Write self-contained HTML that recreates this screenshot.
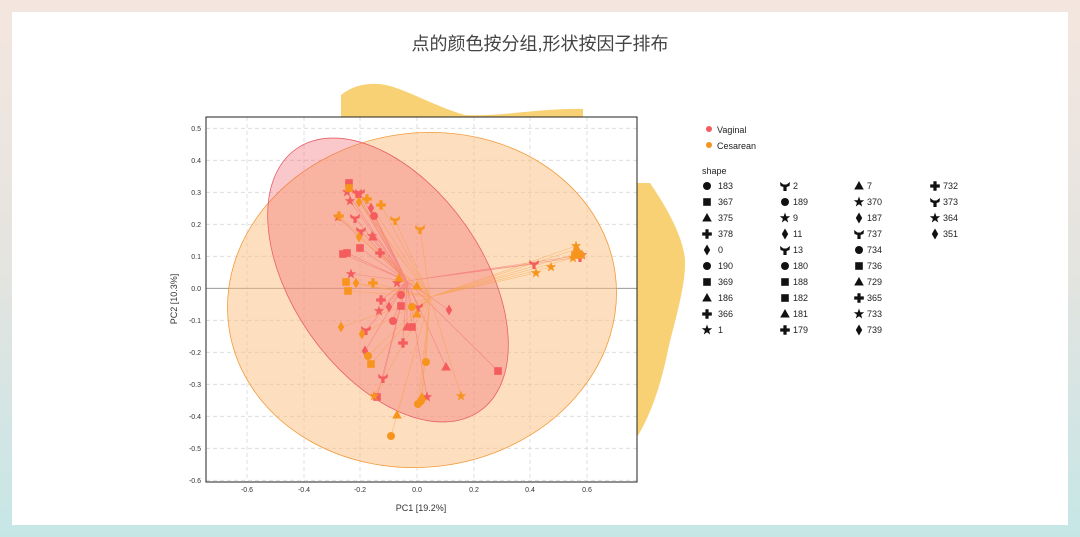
<!DOCTYPE html>
<html><head><meta charset="utf-8"><style>
body{margin:0;width:1080px;height:537px;overflow:hidden;background:linear-gradient(180deg,#f4e6df 0%,#e4e4e0 50%,#c6e6e6 100%);font-family:"Liberation Sans","Noto Sans CJK SC",sans-serif}
#card{position:absolute;left:12px;top:12px;width:1056px;height:513px;background:#fff}
svg{position:absolute;left:0;top:0}
</style></head><body>
<div id="card"></div>
<svg width="1080" height="537" viewBox="0 0 1080 537" font-family="Liberation Sans, sans-serif">
<defs>
<circle id="c" r="4"/>
<rect id="s" x="-3.8" y="-3.8" width="7.6" height="7.6"/>
<path id="t" d="M0,-5L4.8,3.5L-4.8,3.5Z"/>
<path id="p" d="M-1.6,-4.8H1.6V-1.6H4.8V1.6H1.6V4.8H-1.6V1.6H-4.8V-1.6H-1.6Z"/>
<path id="d" d="M0,-5.5L3.2,0L0,5.5L-3.2,0Z"/>
<path id="r" d="M0,-5.5L1.3,-1.8L5.2,-1.7L2.1,0.7L3.2,4.5L0,2.2L-3.2,4.5L-2.1,0.7L-5.2,-1.7L-1.3,-1.8Z"/>
<path id="y" d="M-5,-4L-1.5,-1.5L1.5,-1.5L5,-4L4.5,0L1.6,1V5H-1.6V1L-4.5,0Z"/>
</defs>
<text x="540" y="50" text-anchor="middle" font-size="18" fill="#444" font-family="Liberation Sans, Noto Sans CJK SC, sans-serif">点的颜色按分组,形状按因子排布</text>
<path d="M341,95 C352,86 365,83 378,84 C400,85 430,105 465,115 C500,117 540,108 583,109 L583,117 L341,117Z" fill="#f7d173"/>
<path d="M637,183 L650,183 C665,205 683,235 685,260 C686,285 675,320 668,350 C660,390 648,420 637,437Z" fill="#f7d173"/>
<rect x="206" y="117" width="431" height="365" fill="#fff"/>
<g stroke="#d8d8d8" stroke-dasharray="4,3" stroke-width="0.8">
<line x1="247" y1="117" x2="247" y2="482"/><line x1="304" y1="117" x2="304" y2="482"/><line x1="360" y1="117" x2="360" y2="482"/><line x1="417" y1="117" x2="417" y2="482"/><line x1="474" y1="117" x2="474" y2="482"/><line x1="530" y1="117" x2="530" y2="482"/><line x1="587" y1="117" x2="587" y2="482"/>
<line x1="206" y1="128.3" x2="637" y2="128.3"/><line x1="206" y1="160.3" x2="637" y2="160.3"/><line x1="206" y1="192.3" x2="637" y2="192.3"/><line x1="206" y1="224.3" x2="637" y2="224.3"/><line x1="206" y1="256.3" x2="637" y2="256.3"/><line x1="206" y1="320.3" x2="637" y2="320.3"/><line x1="206" y1="352.3" x2="637" y2="352.3"/><line x1="206" y1="384.3" x2="637" y2="384.3"/><line x1="206" y1="416.3" x2="637" y2="416.3"/><line x1="206" y1="448.3" x2="637" y2="448.3"/><line x1="206" y1="480.3" x2="637" y2="480.3"/>
</g>
<line x1="206" y1="288.3" x2="637" y2="288.3" stroke="#888" stroke-width="0.8"/>
<ellipse cx="422" cy="300" rx="195" ry="167" transform="rotate(-8 422 300)" fill="#fbbf80" fill-opacity="0.5" stroke="#f39a3a" stroke-width="0.8"/>
<ellipse cx="388" cy="280" rx="160" ry="95" transform="rotate(55 388 280)" fill="#f0606a" fill-opacity="0.35" stroke="#e8606a" stroke-width="0.8"/>
<g stroke="#f26a6a" stroke-width="0.6" stroke-opacity="0.6">
<path d="M407,281L349,183M407,281L347,192M407,281L357,193M407,281L360,193M407,281L350,201M407,281L371,208M407,281L374,216M407,281L355,218M407,281L338,217M407,281L361,231M407,281L372,236M407,281L360,248M407,281L343,254M407,281L347,253M407,281L380,253M407,281L351,274M407,281L397,283M407,281L401,295M407,281L381,300M407,281L401,306M407,281L389,307M407,281L379,311M407,281L418,307M407,281L393,321M407,281L407,327M407,281L412,327M407,281L366,330M407,281L403,343M407,281L365,351M407,281L383,378M407,281L377,397M407,281L427,397M407,281L446,367M407,281L498,371M407,281L449,310M407,281L534,264M407,281L580,257M407,281L582,255"/>
</g>
<g stroke="#f7a040" stroke-width="0.6" stroke-opacity="0.6">
<path d="M430,297L349,188M430,297L339,216M430,297L359,202M430,297L367,199M430,297L381,205M430,297L395,220M430,297L420,229M430,297L359,237M430,297L346,282M430,297L348,291M430,297L356,283M430,297L373,283M430,297L399,278M430,297L417,286M430,297L412,307M430,297L417,314M430,297L341,327M430,297L362,334M430,297L368,356M430,297L371,364M430,297L426,362M430,297L374,396M430,297L461,396M430,297L422,397M430,297L421,401M430,297L418,404M430,297L397,415M430,297L391,436M430,297L536,273M430,297L551,267M430,297L576,246M430,297L578,253M430,297L573,258M430,297L577,249"/>
</g>
<g fill="#f45c5e">
<use href="#s" x="349" y="183"/><use href="#r" x="347" y="192"/><use href="#y" x="357" y="193"/><use href="#y" x="360" y="193"/><use href="#r" x="350" y="201"/><use href="#d" x="371" y="208"/><use href="#c" x="374" y="216"/><use href="#y" x="355" y="218"/><use href="#r" x="338" y="217"/><use href="#y" x="361" y="231"/><use href="#r" x="372" y="236"/><use href="#t" x="373" y="237"/><use href="#s" x="360" y="248"/><use href="#s" x="343" y="254"/><use href="#s" x="347" y="253"/><use href="#p" x="380" y="253"/><use href="#r" x="351" y="274"/><use href="#r" x="397" y="283"/><use href="#c" x="401" y="295"/><use href="#p" x="381" y="300"/><use href="#s" x="401" y="306"/><use href="#d" x="389" y="307"/><use href="#r" x="379" y="311"/><use href="#y" x="418" y="307"/><use href="#c" x="393" y="321"/><use href="#t" x="407" y="327"/><use href="#s" x="412" y="327"/><use href="#y" x="366" y="330"/><use href="#p" x="403" y="343"/><use href="#d" x="365" y="351"/><use href="#y" x="383" y="378"/><use href="#s" x="377" y="397"/><use href="#r" x="427" y="397"/><use href="#t" x="446" y="367"/><use href="#s" x="498" y="371"/><use href="#d" x="449" y="310"/><use href="#y" x="534" y="264"/><use href="#y" x="580" y="257"/><use href="#r" x="582" y="255"/>
</g>
<g fill="#f7941d">
<use href="#s" x="349" y="188"/><use href="#p" x="339" y="216"/><use href="#d" x="359" y="202"/><use href="#p" x="367" y="199"/><use href="#p" x="381" y="205"/><use href="#y" x="395" y="220"/><use href="#y" x="420" y="229"/><use href="#d" x="359" y="237"/><use href="#s" x="346" y="282"/><use href="#s" x="348" y="291"/><use href="#d" x="356" y="283"/><use href="#p" x="373" y="283"/><use href="#t" x="399" y="278"/><use href="#t" x="417" y="286"/><use href="#c" x="412" y="307"/><use href="#t" x="417" y="314"/><use href="#d" x="341" y="327"/><use href="#d" x="362" y="334"/><use href="#c" x="368" y="356"/><use href="#s" x="371" y="364"/><use href="#c" x="426" y="362"/><use href="#r" x="374" y="396"/><use href="#r" x="461" y="396"/><use href="#t" x="422" y="397"/><use href="#c" x="421" y="401"/><use href="#c" x="418" y="404"/><use href="#t" x="397" y="415"/><use href="#c" x="391" y="436"/><use href="#r" x="536" y="273"/><use href="#r" x="551" y="267"/><use href="#r" x="576" y="246"/><use href="#t" x="577" y="249"/><use href="#c" x="578" y="253"/><use href="#r" x="573" y="258"/><use href="#s" x="575" y="255"/><use href="#c" x="581" y="255"/>
</g>
<rect x="206" y="117" width="431" height="365" fill="none" stroke="#222" stroke-width="1"/>
<g font-size="7" fill="#333" text-anchor="middle">
<text x="247" y="492">-0.6</text><text x="304" y="492">-0.4</text><text x="360" y="492">-0.2</text><text x="417" y="492">0.0</text><text x="474" y="492">0.2</text><text x="530" y="492">0.4</text><text x="587" y="492">0.6</text>
</g>
<g font-size="7" fill="#333" text-anchor="end">
<text x="201" y="131">0.5</text><text x="201" y="163">0.4</text><text x="201" y="195">0.3</text><text x="201" y="227">0.2</text><text x="201" y="259">0.1</text><text x="201" y="291">0.0</text><text x="201" y="323">-0.1</text><text x="201" y="355">-0.2</text><text x="201" y="387">-0.3</text><text x="201" y="419">-0.4</text><text x="201" y="451">-0.5</text><text x="201" y="483">-0.6</text>
</g>
<text x="421" y="511" font-size="9" fill="#333" text-anchor="middle">PC1 [19.2%]</text>
<text x="0" y="0" font-size="9" fill="#333" text-anchor="middle" transform="translate(177,299) rotate(-90)">PC2 [10.3%]</text>
<circle cx="709" cy="129" r="3" fill="#f45c5e"/><text x="717" y="133" font-size="9" fill="#222">Vaginal</text>
<circle cx="709" cy="145" r="3" fill="#f7941d"/><text x="717" y="149" font-size="9" fill="#222">Cesarean</text>
<text x="702" y="174" font-size="9" fill="#222">shape</text>
<g fill="#111">
<use href="#c" x="707" y="186"/><use href="#s" x="707" y="202"/><use href="#t" x="707" y="218"/><use href="#p" x="707" y="234"/><use href="#d" x="707" y="250"/><use href="#c" x="707" y="266"/><use href="#s" x="707" y="282"/><use href="#t" x="707" y="298"/><use href="#p" x="707" y="314"/><use href="#r" x="707" y="330"/>
<use href="#y" x="785" y="186"/><use href="#c" x="785" y="202"/><use href="#r" x="785" y="218"/><use href="#d" x="785" y="234"/><use href="#y" x="785" y="250"/><use href="#c" x="785" y="266"/><use href="#s" x="785" y="282"/><use href="#s" x="785" y="298"/><use href="#t" x="785" y="314"/><use href="#p" x="785" y="330"/>
<use href="#t" x="859" y="186"/><use href="#r" x="859" y="202"/><use href="#d" x="859" y="218"/><use href="#y" x="859" y="234"/><use href="#c" x="859" y="250"/><use href="#s" x="859" y="266"/><use href="#t" x="859" y="282"/><use href="#p" x="859" y="298"/><use href="#r" x="859" y="314"/><use href="#d" x="859" y="330"/>
<use href="#p" x="935" y="186"/><use href="#y" x="935" y="202"/><use href="#r" x="935" y="218"/><use href="#d" x="935" y="234"/>
</g>
<g font-size="9" fill="#222">
<text x="718" y="189">183</text><text x="718" y="205">367</text><text x="718" y="221">375</text><text x="718" y="237">378</text><text x="718" y="253">0</text><text x="718" y="269">190</text><text x="718" y="285">369</text><text x="718" y="301">186</text><text x="718" y="317">366</text><text x="718" y="333">1</text>
<text x="793" y="189">2</text><text x="793" y="205">189</text><text x="793" y="221">9</text><text x="793" y="237">11</text><text x="793" y="253">13</text><text x="793" y="269">180</text><text x="793" y="285">188</text><text x="793" y="301">182</text><text x="793" y="317">181</text><text x="793" y="333">179</text>
<text x="867" y="189">7</text><text x="867" y="205">370</text><text x="867" y="221">187</text><text x="867" y="237">737</text><text x="867" y="253">734</text><text x="867" y="269">736</text><text x="867" y="285">729</text><text x="867" y="301">365</text><text x="867" y="317">733</text><text x="867" y="333">739</text>
<text x="943" y="189">732</text><text x="943" y="205">373</text><text x="943" y="221">364</text><text x="943" y="237">351</text>
</g>
</svg>
</body></html>
